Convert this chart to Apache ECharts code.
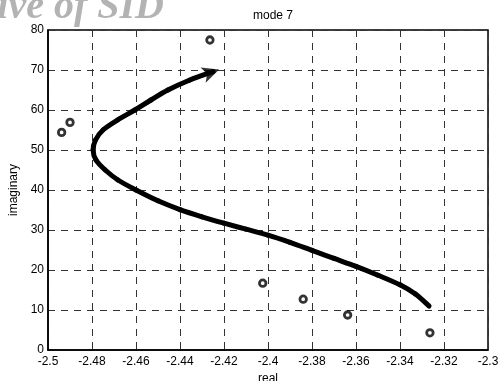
<!DOCTYPE html>
<html>
<head>
<meta charset="utf-8">
<script src="https://cdn.jsdelivr.net/npm/echarts@6/dist/echarts.min.js"></script>
<style>
  html, body { margin: 0; padding: 0; background: #fff; }
  #chart { width: 498px; height: 381px; }
</style>
</head>
<body>
<div id="chart"></div>
<script>
// Root locus of mode 7: path of the eigenvalue (real, imaginary) and discrete poles
const xTicks = [-2.5, -2.48, -2.46, -2.44, -2.42, -2.4, -2.38, -2.36, -2.34, -2.32, -2.3];
const yTicks = [0, 10, 20, 30, 40, 50, 60, 70, 80];

// Trajectory, from the start point towards the arrow tip
const pathReal = [-2.3268, -2.333, -2.34, -2.35, -2.36, -2.37, -2.38, -2.39, -2.40, -2.41, -2.42, -2.43, -2.44, -2.45, -2.46,
                  -2.4682, -2.4740, -2.4782, -2.4795, -2.4784, -2.4750, -2.4684, -2.4605, -2.4532, -2.4455, -2.4355, -2.4250];
const pathImag = [11.0, 14.0, 16.3, 18.7, 20.9, 22.9, 24.9, 26.9, 28.7, 30.2, 31.7, 33.3, 35.1, 37.3, 40.0,
                  42.5, 45.0, 47.5, 50.0, 52.5, 55.0, 57.5, 60.0, 62.5, 65.0, 67.5, 69.6];

// Arrow head at the end of the trajectory
const arrowReal = [-2.4222];
const arrowImag = [70.1];

// Discrete poles
const poleReal = [-2.4938, -2.4900, -2.4264, -2.4024, -2.3840, -2.3638, -2.3264];
const poleImag = [54.4, 56.9, 77.5, 16.7, 12.7, 8.75, 4.3];

const pathData = pathReal.map((x, i) => [x, pathImag[i]]);
const arrowData = arrowReal.map((x, i) => [x, arrowImag[i]]);
const poleData = poleReal.map((x, i) => [x, poleImag[i]]);

const fmt = v => String(Math.round(v * 1000) / 1000);
const labelFont = { fontFamily: 'Liberation Sans, Arial, sans-serif', fontSize: 12, color: '#000' };
const gridLine = { show: true, lineStyle: { color: '#333', width: 1, type: [7, 6] } };

// Each item draws the Catmull-Rom segment from point i to point i+1 in pixel space
function renderSegment(params, api) {
  const i = params.dataIndex;
  const n = pathData.length;
  if (i >= n - 1) return null;
  const p = k => api.coord(pathData[Math.max(0, Math.min(n - 1, k))]);
  const p0 = p(i - 1), p1 = p(i), p2 = p(i + 1), p3 = p(i + 2);
  return {
    type: 'bezierCurve',
    shape: {
      x1: p1[0], y1: p1[1],
      x2: p2[0], y2: p2[1],
      cpx1: p1[0] + (p2[0] - p0[0]) / 6, cpy1: p1[1] + (p2[1] - p0[1]) / 6,
      cpx2: p2[0] - (p3[0] - p1[0]) / 6, cpy2: p2[1] - (p3[1] - p1[1]) / 6
    },
    style: { stroke: '#000', lineWidth: 5, fill: null, lineCap: 'round' }
  };
}

const chart = echarts.init(document.getElementById('chart'), null, { renderer: 'canvas' });
chart.setOption({
  animation: false,
  backgroundColor: '#fff',
  title: {
    text: 'mode 7',
    left: 268,
    top: 5,
    textAlign: 'center',
    textStyle: { fontFamily: 'Liberation Sans, Arial, sans-serif', fontSize: 12, fontWeight: 'normal', color: '#000' }
  },
  graphic: [{
    type: 'text',
    x: 164,
    y: 28,
    silent: true,
    z: 0,
    style: {
      text: 'Archive of SID',
      x: 0,
      y: 0,
      align: 'right',
      verticalAlign: 'bottom',
      font: 'italic bold 40px "Liberation Serif", "DejaVu Serif", serif',
      fill: '#b3b3b3'
    }
  }],
  grid: {
    left: 48, right: 10, top: 30, bottom: 31,
    outerBoundsMode: 'none',
    containLabel: false,
    show: true, borderColor: '#000', borderWidth: 1.5, backgroundColor: 'transparent'
  },
  xAxis: {
    type: 'value',
    min: xTicks[0],
    max: xTicks[xTicks.length - 1],
    interval: 0.02,
    name: 'real',
    nameLocation: 'middle',
    nameGap: 21,
    nameTextStyle: labelFont,
    axisLine: { show: true, onZero: false, lineStyle: { color: '#000', width: 1.5 } },
    axisTick: { show: false },
    axisLabel: Object.assign({ margin: 6, formatter: fmt }, labelFont),
    splitLine: gridLine
  },
  yAxis: {
    type: 'value',
    min: yTicks[0],
    max: yTicks[yTicks.length - 1],
    interval: 10,
    name: 'imaginary',
    nameLocation: 'middle',
    nameGap: 28,
    nameRotate: 90,
    nameTextStyle: labelFont,
    axisLine: { show: true, onZero: false, lineStyle: { color: '#000', width: 1.5 } },
    axisTick: { show: false },
    axisLabel: Object.assign({ margin: 4, formatter: fmt }, labelFont),
    splitLine: gridLine
  },
  series: [
    {
      type: 'custom',
      coordinateSystem: 'cartesian2d',
      data: pathData,
      encode: { x: 0, y: 1 },
      renderItem: renderSegment,
      silent: true,
      z: 3
    },
    {
      type: 'scatter',
      data: arrowData,
      symbol: 'arrow',
      symbolSize: [12, 17],
      symbolRotate: -71,
      itemStyle: { color: '#000' },
      z: 4
    },
    {
      type: 'scatter',
      data: poleData,
      symbol: 'circle',
      symbolSize: 6.5,
      itemStyle: { color: '#fff', borderColor: '#000', borderWidth: 2.8 },
      z: 5
    }
  ]
});
</script>
</body>
</html>
